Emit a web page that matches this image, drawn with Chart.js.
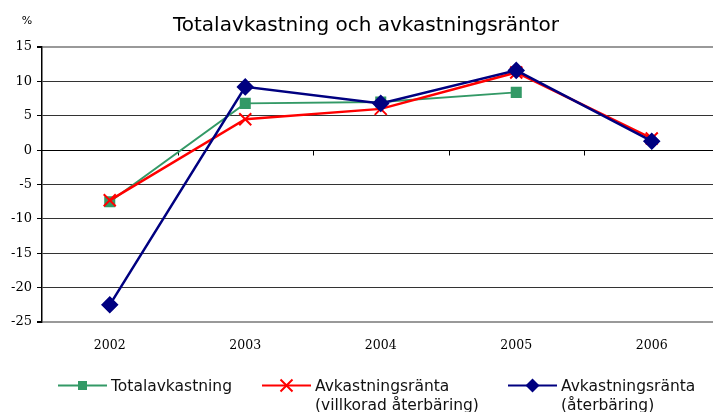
<!DOCTYPE html>
<html>
<head>
<meta charset="utf-8">
<script src="https://cdn.jsdelivr.net/npm/chart.js@4.4.0/dist/chart.umd.min.js"></script>
<style>
  html, body { margin: 0; padding: 0; background: #fff; overflow: hidden; }
  #wrap { position: relative; width: 730px; height: 412px; }
</style>
</head>
<body>
<div id="wrap"><canvas id="chart"></canvas></div>
<script>
const years = ['2002', '2003', '2004', '2005', '2006'];
const totalReturn = [-7.5, 6.8, 7.0, 8.4, null];
const conditionalRate = [-7.3, 4.5, 6.0, 11.3, 1.7];
const bonusRate = [-22.5, 9.2, 6.8, 11.6, 1.3];
const yTicks = [15, 10, 5, 0, -5, -10, -15, -20, -25];

const chartTitle = 'Totalavkastning och avkastningsräntor';
const legendItems = [
    { lines: ['Totalavkastning'], color: '#339966', marker: 'square', x: 58 },
    { lines: ['Avkastningsränta', '(villkorad återbäring)'], color: '#ff0000', marker: 'cross', x: 262 },
    { lines: ['Avkastningsränta', '(återbäring)'], color: '#000080', marker: 'diamond', x: 508 }
];

function drawMarker(ctx, type, x, y, color) {
    ctx.save();
    ctx.fillStyle = color;
    ctx.strokeStyle = color;
    if (type === 'square') {
        ctx.fillRect(x - 4.5, y - 4.5, 9, 9);
    } else if (type === 'cross') {
        ctx.lineWidth = 2;
        ctx.beginPath();
        ctx.moveTo(x - 6, y - 6); ctx.lineTo(x + 6, y + 6);
        ctx.moveTo(x + 6, y - 6); ctx.lineTo(x - 6, y + 6);
        ctx.stroke();
    } else {
        ctx.beginPath();
        ctx.moveTo(x, y - 7); ctx.lineTo(x + 7, y);
        ctx.lineTo(x, y + 7); ctx.lineTo(x - 7, y);
        ctx.closePath();
        ctx.fill();
    }
    ctx.restore();
}

const decorations = {
    id: 'decorations',
    beforeDatasetsDraw(chart) {
        const { ctx, scales: { x, y } } = chart;
        const zeroY = Math.round(y.getPixelForValue(0)) + 0.5;
        ctx.save();
        ctx.strokeStyle = '#000';
        ctx.lineWidth = 1;
        ctx.beginPath();
        ctx.moveTo(chart.chartArea.left, zeroY);
        ctx.lineTo(chart.chartArea.right, zeroY);
        for (let i = 0; i < years.length - 1; i++) {
            const bx = Math.round((x.getPixelForValue(i) + x.getPixelForValue(i + 1)) / 2) + 0.5;
            ctx.moveTo(bx, zeroY);
            ctx.lineTo(bx, zeroY + 5);
        }
        ctx.stroke();
        ctx.restore();
    },
    afterDraw(chart) {
        const ctx = chart.ctx;
        ctx.save();
        ctx.fillStyle = '#000';
        ctx.textBaseline = 'alphabetic';
        ctx.textAlign = 'center';
        ctx.font = '20px "DejaVu Sans"';
        ctx.fillText(chartTitle, 366, 31);
        ctx.font = '11px "DejaVu Sans"';
        ctx.fillText('%', 27, 24);

        ctx.textAlign = 'left';
        ctx.font = '15.5px "DejaVu Sans"';
        legendItems.forEach(item => {
            const ly = 385.5;
            ctx.strokeStyle = item.color;
            ctx.lineWidth = 2;
            ctx.beginPath();
            ctx.moveTo(item.x, ly);
            ctx.lineTo(item.x + 49, ly);
            ctx.stroke();
            drawMarker(ctx, item.marker, item.x + 24.5, ly, item.color);
            ctx.fillStyle = '#111';
            item.lines.forEach((line, i) => {
                ctx.fillText(line, item.x + 53, 391 + i * 19);
            });
        });
        ctx.restore();
    }
};

new Chart(document.getElementById('chart'), {
    type: 'line',
    data: {
        labels: years,
        datasets: [{
            label: 'Totalavkastning',
            data: totalReturn,
            borderColor: '#339966',
            backgroundColor: '#339966',
            borderWidth: 2,
            pointStyle: 'rect',
            pointRadius: 6.4,
            pointHoverRadius: 6.4,
            order: 2
        }, {
            label: 'Avkastningsränta (villkorad återbäring)',
            data: conditionalRate,
            borderColor: '#ff0000',
            backgroundColor: '#ff0000',
            borderWidth: 2.5,
            pointStyle: 'crossRot',
            pointRadius: 8.5,
            pointHoverRadius: 8.5,
            pointBorderWidth: 2,
            order: 1
        }, {
            label: 'Avkastningsränta (återbäring)',
            data: bonusRate,
            borderColor: '#000080',
            backgroundColor: '#000080',
            borderWidth: 2.5,
            pointStyle: 'rectRot',
            pointRadius: 7,
            pointHoverRadius: 7,
            order: 0
        }]
    },
    options: {
        responsive: true,
        maintainAspectRatio: false,
        animation: false,
        events: [],
        layout: { padding: { left: 0, right: 8, top: 47, bottom: 0 } },
        plugins: {
            legend: { display: false },
            title: { display: false },
            tooltip: { enabled: false }
        },
        scales: {
            x: {
                offset: true,
                grid: { display: false, drawTicks: false },
                border: { display: false },
                ticks: {
                    color: '#000',
                    font: { family: '"DejaVu Serif"', size: 12.5 },
                    padding: 16
                },
                afterFit(scale) { scale.height = 90; }
            },
            y: {
                min: -25,
                max: 15,
                afterBuildTicks(scale) { scale.ticks = yTicks.map(v => ({ value: v })); },
                grid: {
                    color: ctx => (ctx.tick && (ctx.tick.value === 15 || ctx.tick.value === -25)) ? '#999' : '#333',
                    lineWidth: ctx => (ctx.tick && (ctx.tick.value === 15 || ctx.tick.value === -25)) ? 2 : 1,
                    tickColor: '#000',
                    tickLength: 5,
                    drawTicks: true
                },
                border: { display: true, color: '#000', width: 1.5 },
                ticks: {
                    color: '#000',
                    font: { family: '"DejaVu Serif"', size: 13 },
                    padding: 5
                },
                afterFit(scale) { scale.width = 42; }
            }
        }
    },
    plugins: [decorations]
});
</script>
</body>
</html>
